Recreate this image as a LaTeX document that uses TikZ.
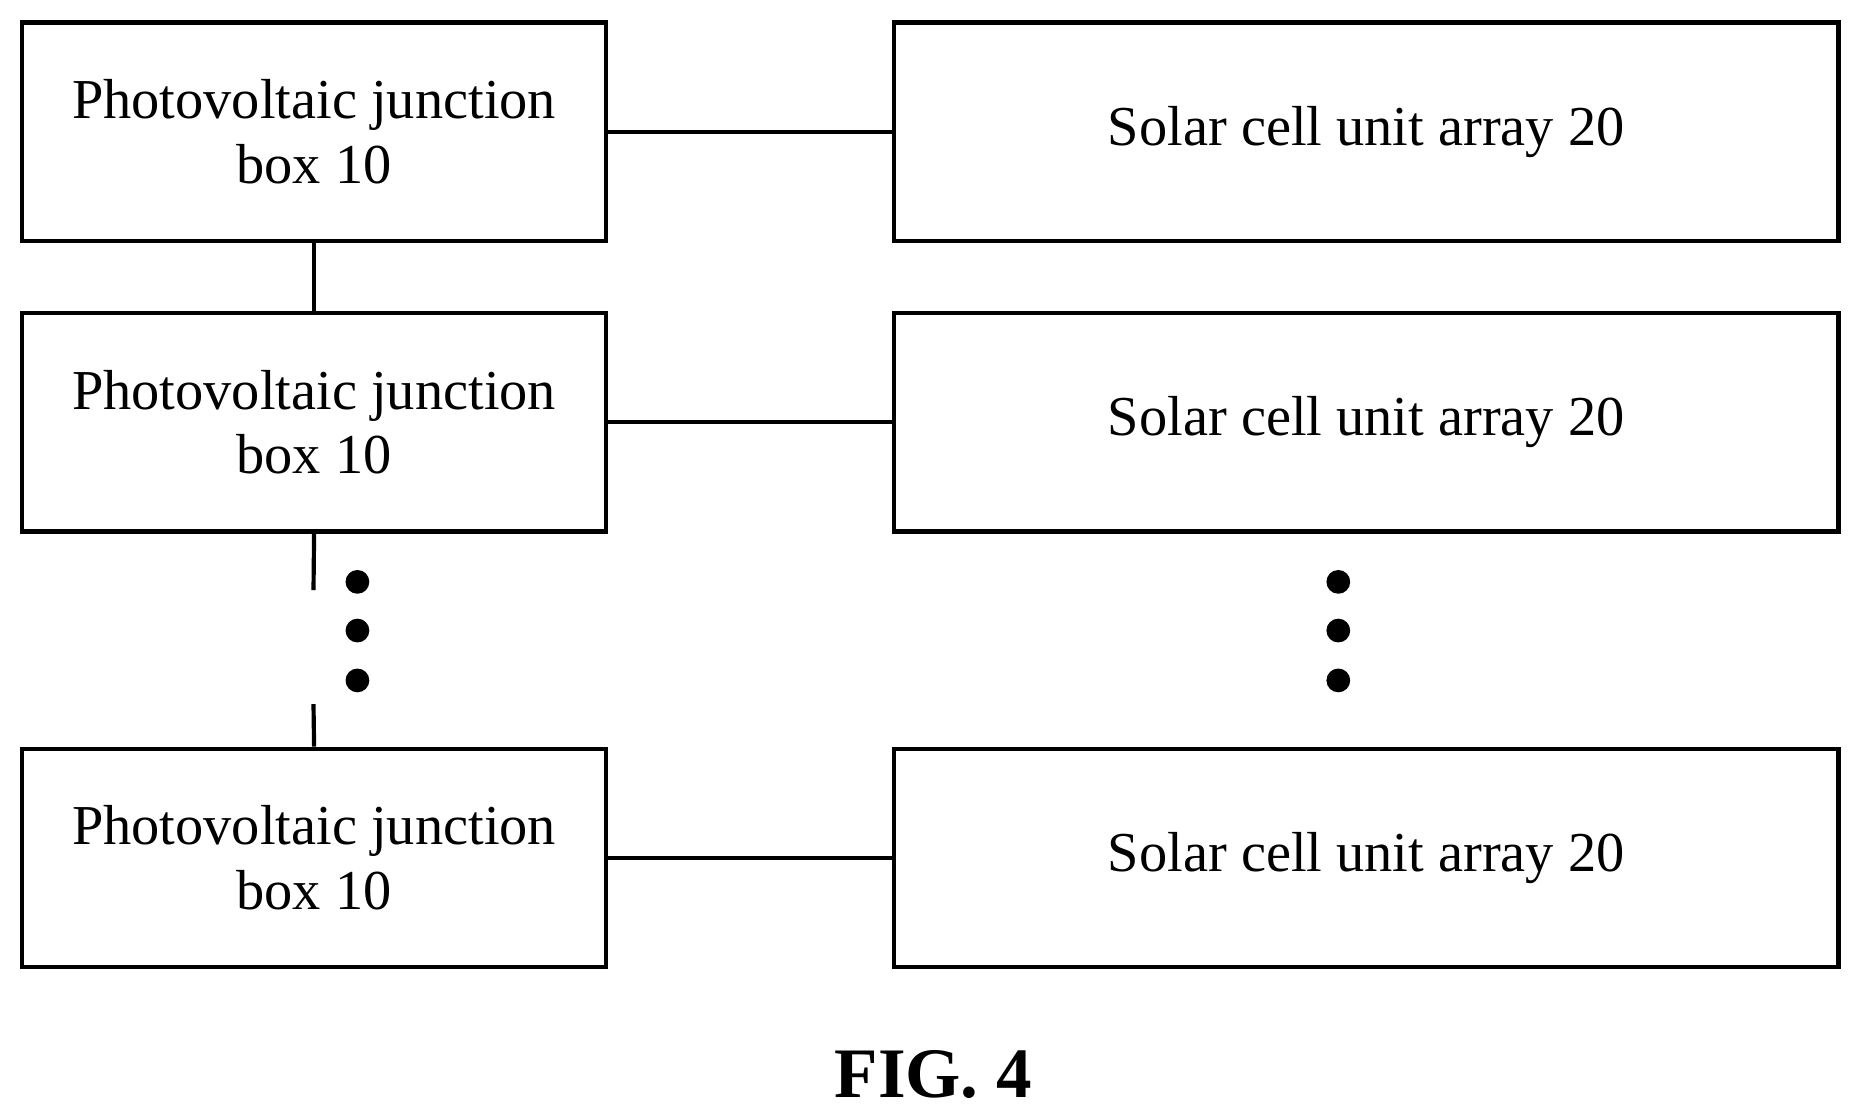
\documentclass[tikz,border=0pt]{standalone}
\usepackage{fontspec}
\setmainfont{Liberation Serif}
\usetikzlibrary{positioning}
\tikzset{
  box/.style={draw, line width=1pt, minimum width=4.91cm, minimum height=1.84cm,
    align=center, font=\fontsize{13.5}{15.5}\selectfont, inner sep=0pt},
  wide/.style={box, minimum width=7.95cm},
  link/.style={line width=1pt},
  dot/.style={circle, fill, inner sep=0pt, minimum size=0.2cm}
}
\begin{document}
\begin{tikzpicture}[x=0.01cm,y=-0.01cm]
\useasboundingbox (0,0) rectangle (1568,940);

% junction boxes
\node[box] (jb1) at (264.5,111) {Photovoltaic junction\\box 10};
\node[box] (jb2) at (264.5,355.5) {Photovoltaic junction\\box 10};
\node[box] (jb3) at (264.5,722.5) {Photovoltaic junction\\box 10};

% cell arrays
\node[wide] (sa1) at (1150.5,111) {Solar cell unit array 20};
\node[wide] (sa2) at (1150.5,355.5) {Solar cell unit array 20};
\node[wide] (sa3) at (1150.5,722.5) {Solar cell unit array 20};

% links
\foreach \i in {1,2,3} {
  \draw[link] (jb\i.east) -- (sa\i.west);
}
\draw[link] (jb1.south) -- (jb2.north);
\coordinate (gap1) at (264,497);
\coordinate (gap2) at (264,593);
\draw[link] (jb2.south) -- (gap1);
\draw[link] (gap2) -- (jb3.north);

% dots
\foreach \y in {490,531,573} {
  \node[dot] (dl\y) at (301,\y) {};
  \node[dot] (dr\y) at (1127,\y) {};
}

\node[font=\bfseries\fontsize{17}{20}\selectfont] (fig) at (786,905) {FIG. 4};
\end{tikzpicture}
\end{document}
